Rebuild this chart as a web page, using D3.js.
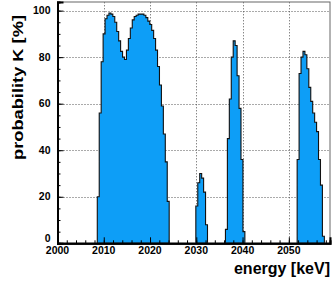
<!DOCTYPE html>
<html>
<head>
<meta charset="utf-8">
<script src="https://cdn.jsdelivr.net/npm/d3@7/dist/d3.min.js"></script>
<style>
  body { margin: 0; background: #fff; }
  svg { display: block; }
  svg text { font-family: "Liberation Sans", Arial, sans-serif; font-weight: bold; fill: #000; }
</style>
</head>
<body>
<svg id="chart" width="332" height="282"></svg>
<script>
// histogram data: one array of bin contents per peak, each with its own first bin edge
var binWidth = 0.42; // keV
var peakStarts = [2008.6, 2029.9, 2036.3, 2051.8];
var peak1 = [20, 56, 78, 90, 96.5, 98, 99, 98.5, 97.5, 95,
             91, 87, 82.5, 80, 79, 83, 88, 92.5, 96, 97.5,
             98, 98.5, 98.5, 98.5, 98, 97, 95.5, 94, 91.5, 88,
             83, 76, 68, 59, 47, 35, 18];
var peak2 = [16, 26, 30, 28, 22, 8];
var peak3 = [6, 45, 62, 80, 87, 85, 72, 58, 36, 5];
var peak4 = [36, 73, 80, 82.5, 81, 75, 67, 61, 56, 52, 48, 36, 25, 3];
var peaks = [peak1, peak2, peak3, peak4];

var xTicks = [2000, 2010, 2020, 2030, 2040, 2050];
var yTicks = [0, 20, 40, 60, 80, 100];
var xDomain = [2000, 2058.9];
var yDomain = [0, 103.7];

var margin = {left: 57.5, right: 2, top: 2, bottom: 38.7};
var width = 332, height = 282;

var svg = d3.select("#chart");

var x = d3.scaleLinear().domain(xDomain).range([margin.left, width - margin.right]);
var y = d3.scaleLinear().domain(yDomain).range([height - margin.bottom, margin.top]);

// grid (dotted), drawn under the histogram
var grid = svg.append("g").attr("stroke", "#555").attr("stroke-dasharray", "1,2").attr("stroke-width", 1);
grid.selectAll(".gy").data(yTicks.filter(d => d > 0)).enter().append("line")
    .attr("x1", x(xDomain[0])).attr("x2", x(xDomain[1]))
    .attr("y1", d => Math.round(y(d)) + 0.5).attr("y2", d => Math.round(y(d)) + 0.5);
grid.selectAll(".gx").data(xTicks.filter(d => d > 2000)).enter().append("line")
    .attr("y1", y(yDomain[0])).attr("y2", y(yDomain[1]))
    .attr("x1", d => Math.round(x(d)) + 0.5).attr("x2", d => Math.round(x(d)) + 0.5);

// histogram peaks
var area = d3.area()
    .x(d => x(d.e))
    .y0(y(0))
    .y1(d => y(d.v))
    .curve(d3.curveStepAfter);

peaks.forEach(function(vals, k) {
    var pts = vals.map((v, i) => ({e: peakStarts[k] + i * binWidth, v: v}));
    pts.push({e: peakStarts[k] + vals.length * binWidth, v: vals[vals.length - 1]});
    svg.append("path")
        .datum(pts)
        .attr("d", area)
        .attr("fill", "#0d9ef7")
        .attr("stroke", "#111")
        .attr("stroke-width", 1.1);
});

// frame top / right
svg.append("rect")
    .attr("x", x(xDomain[0])).attr("y", y(yDomain[1]))
    .attr("width", x(xDomain[1]) - x(xDomain[0]))
    .attr("height", y(yDomain[0]) - y(yDomain[1]))
    .attr("fill", "none").attr("stroke", "#666").attr("stroke-width", 1);

// axes: ticks point inward like ROOT
var xMinor = d3.range(2000, 2059, 2);
var yMinor = d3.range(0, 101, 5);

var gx = svg.append("g").attr("transform", "translate(0," + y(0) + ")");
gx.call(d3.axisTop(x).tickValues(xMinor).tickSize(3).tickFormat(""));
gx.append("g").call(d3.axisTop(x).tickValues(xTicks).tickSize(6).tickFormat(""));
gx.selectAll(".domain").attr("stroke-width", 2);
gx.selectAll("line").attr("stroke", "#000");
gx.selectAll(".lab").data(xTicks).enter().append("text")
    .attr("class", "lab")
    .attr("x", d => x(d)).attr("y", 11)
    .attr("text-anchor", "middle").attr("font-size", "10.5px")
    .text(d => d);

var gy = svg.append("g").attr("transform", "translate(" + x(2000) + ",0)");
gy.call(d3.axisRight(y).tickValues(yMinor).tickSize(3).tickFormat(""));
gy.append("g").call(d3.axisRight(y).tickValues(yTicks).tickSize(6).tickFormat(""));
gy.selectAll(".domain").attr("stroke-width", 2);
gy.selectAll(".lab").data(yTicks).enter().append("text")
    .attr("class", "lab")
    .attr("x", -7).attr("y", d => y(d) + (d === 0 ? -5 : 0))
    .attr("dy", "0.35em")
    .attr("text-anchor", "end").attr("font-size", "10.5px")
    .text(d => d);

// titles
svg.append("text")
    .attr("x", 330).attr("y", 273.5)
    .attr("text-anchor", "end").attr("font-size", "16px")
    .text("energy [keV]");
svg.append("text")
    .attr("transform", "translate(23,15) rotate(-90)")
    .attr("text-anchor", "end").attr("font-size", "15px")
    .attr("textLength", 145).attr("lengthAdjust", "spacingAndGlyphs")
    .text("probability K [%]");
</script>
</body>
</html>
